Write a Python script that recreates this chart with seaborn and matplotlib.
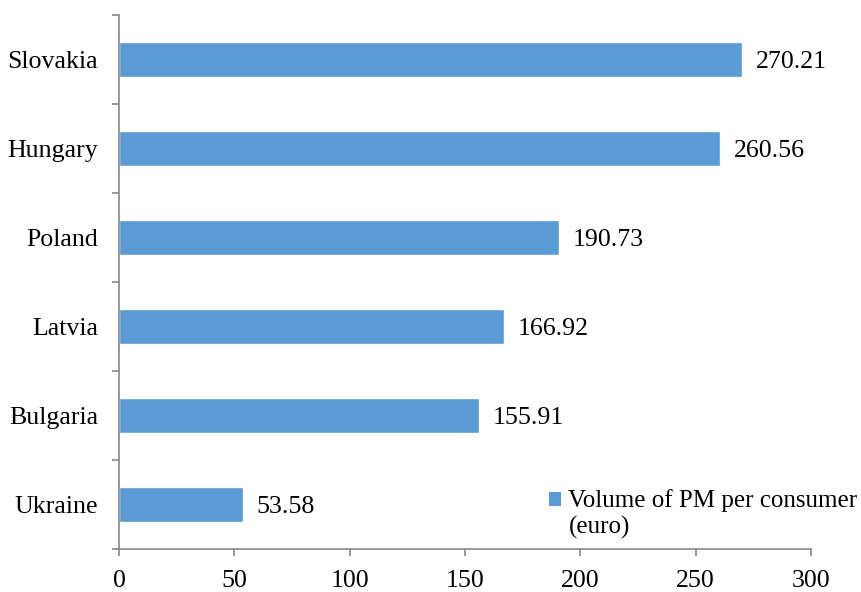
import matplotlib
matplotlib.use("Agg")
import matplotlib.pyplot as plt
import seaborn as sns
import pandas as pd
from matplotlib.ticker import FixedLocator, MultipleLocator
from matplotlib.patches import Patch, Rectangle
from matplotlib.legend_handler import HandlerPatch

countries = ["Slovakia", "Hungary", "Poland", "Latvia", "Bulgaria", "Ukraine"]
volume = [270.21, 260.56, 190.73, 166.92, 155.91, 53.58]
series_label = "Volume of PM per consumer\n(euro)"

sns.set_theme(style="white")
plt.rcParams["font.family"] = ["Liberation Serif", "DejaVu Serif"]
plt.rcParams["text.color"] = "black"

bar_color = "#5B9BD5"
axis_color = "#878787"
fsize = 18.6

df = pd.DataFrame({"country": countries, "volume": volume})

fig = plt.figure(figsize=(8.62, 5.92), dpi=100)
ax = fig.add_axes([119 / 862, 1 - 549 / 592, (811 - 119) / 862, (549 - 15) / 592])

sns.barplot(data=df, x="volume", y="country", orient="h", color=bar_color,
            width=0.4, saturation=1, ax=ax)

ax.set_xlim(0, 300)
ax.set_ylim(5.5, -0.5)
ax.xaxis.set_major_locator(MultipleLocator(50))
ax.set_xlabel("")
ax.set_ylabel("")

for side in ("top", "right"):
    ax.spines[side].set_visible(False)
for side in ("left", "bottom"):
    ax.spines[side].set_color(axis_color)
    ax.spines[side].set_linewidth(1.2)

# Category labels without marks; boundary marks between categories
ax.tick_params(axis="y", which="major", length=0, pad=15, labelsize=fsize, labelcolor="black")
ax.yaxis.set_minor_locator(FixedLocator([i - 0.5 for i in range(len(countries) + 1)]))
ax.tick_params(axis="y", which="minor", left=True, length=5, width=1.2, color=axis_color, direction="out")
ax.tick_params(axis="x", which="major", bottom=True, length=5, width=1.2, color=axis_color,
               direction="out", pad=10, labelsize=fsize, labelcolor="black")

for txt in ax.bar_label(ax.containers[0], fmt="%.2f", padding=10, fontsize=fsize, color="black"):
    txt.set_y(-2)


def top_square(legend, orig_handle, xdescent, ydescent, width, height, fontsize):
    # keep the key square beside the first line of a two-line label
    return Rectangle((-xdescent, -ydescent + 0.6 * fontsize), width, height)


handle = Patch(facecolor=bar_color, edgecolor="none")
fig.legend([handle], [series_label], loc="upper left",
           bbox_to_anchor=(536 / 862, 1 - 477 / 592), frameon=False, fontsize=18,
           handlelength=0.5, handleheight=0.5, handletextpad=0.3, borderpad=0,
           labelspacing=0, labelcolor="black",
           handler_map={Patch: HandlerPatch(patch_func=top_square)})

fig.savefig("out.png", dpi=100)
